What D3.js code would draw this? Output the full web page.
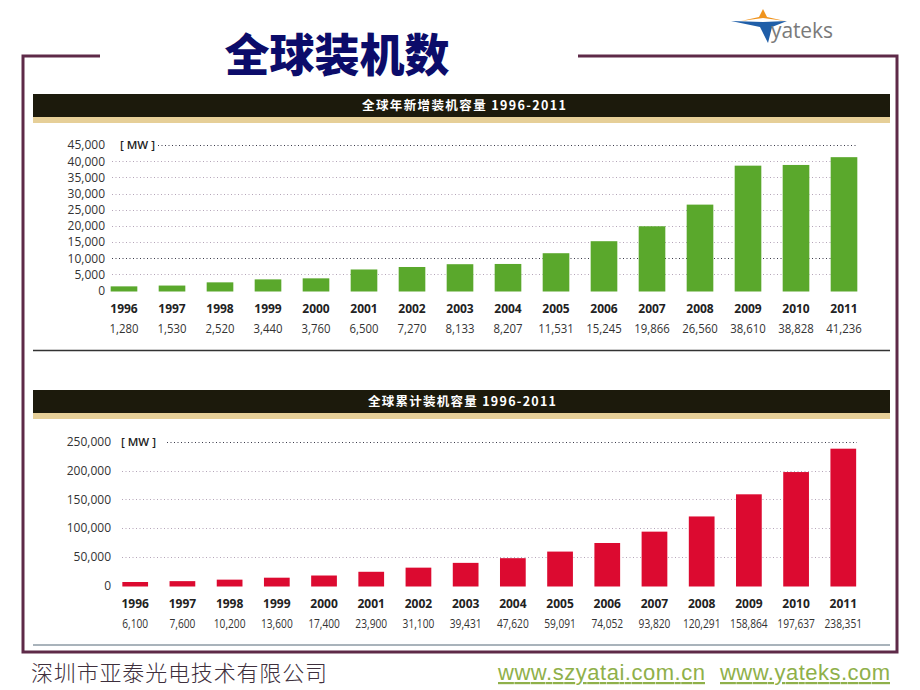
<!DOCTYPE html>
<html><head><meta charset="utf-8">
<script src="https://cdn.jsdelivr.net/npm/d3@7"></script>
<style>
html,body{margin:0;padding:0;background:#fff;}
svg{display:block;}
</style></head>
<body>
<script>
const years = ["1996","1997","1998","1999","2000","2001","2002","2003","2004","2005","2006","2007","2008","2009","2010","2011"];
const annualMW = [1280,1530,2520,3440,3760,6500,7270,8133,8207,11531,15245,19866,26560,38610,38828,41236];
const cumulativeMW = [6100,7600,10200,13600,17400,23900,31100,39431,47620,59091,74052,93820,120291,158864,197637,238351];
const ticksAnnual = [0,5000,10000,15000,20000,25000,30000,35000,40000,45000];
const ticksCumulative = [0,50000,100000,150000,200000,250000];
const pageTitle = "全球装机数";
const titleAnnual = "全球年新增装机容量 1996-2011";
const titleCumulative = "全球累计装机容量 1996-2011";
const unitLabel = "[ MW ]";
const companyName = "深圳市亚泰光电技术有限公司";
const urls = ["www.szyatai.com.cn","www.yateks.com"];

const W = 920, H = 690;
const svg = d3.select("body").append("svg").attr("width", W).attr("height", H);
svg.append("rect").attr("width", W).attr("height", H).attr("fill", "#fff");

const fmt = d3.format(",");
const FONT = "'Open Sans', 'Noto Sans', sans-serif";
const CJK = "'Noto Sans CJK SC', sans-serif";

// Frame
const frame = "#5e2a48";
svg.append("path")
  .attr("d", "M100,56 L23,56 L23,652 L897,652 L897,56 L578,56")
  .attr("fill", "none").attr("stroke", frame).attr("stroke-width", 3);

// Title
svg.append("text").attr("x", 337).attr("y", 72).attr("text-anchor", "middle")
  .attr("font-family", CJK).attr("font-weight", 900).attr("font-size", 45)
  .attr("fill", "#0c0c6a").text(pageTitle);

// Logo
const logo = svg.append("g");
logo.append("path").attr("d", "M763,9 L767,17 L785,21 L763,18 L741,21 L759,17 Z").attr("fill", "#f0941e");
logo.append("path").attr("d", "M731,21 L763,22 L787,21 L772,27 L768,43 L760,27 Z").attr("fill", "#1f5ea8");
logo.append("text").attr("x", 771).attr("y", 38).attr("font-family", FONT)
  .attr("font-size", 21).attr("fill", "#7a7a7a").attr("textLength", 62).text("yateks");

function headerBar(y, title, cx, len) {
  svg.append("rect").attr("x", 33).attr("y", y).attr("width", 857).attr("height", 23).attr("fill", "#1c1a0c");
  svg.append("rect").attr("x", 33).attr("y", y + 23).attr("width", 857).attr("height", 6).attr("fill", "#e6cf98");
  svg.append("text").attr("x", cx).attr("y", y + 16).attr("text-anchor", "middle")
    .attr("font-family", CJK).attr("font-weight", 700).attr("font-size", 12.5)
    .attr("fill", "#fff").attr("textLength", len).attr("lengthAdjust", "spacing").text(title);
}
headerBar(94, titleAnnual, 464, 204);
headerBar(390, titleCumulative, 462, 188);

function barChart(opt) {
  const g = svg.append("g");
  const x = d3.scaleBand().domain(years).range(opt.xr).paddingInner(opt.pad).paddingOuter(opt.pad / 2);
  const y = d3.scaleLinear().domain([0, opt.ticks[opt.ticks.length - 1]]).range(opt.yr);

  // gridlines
  opt.ticks.filter(t => t > 0).forEach((t, i, arr) => {
    const top = i === arr.length - 1;
    g.append("line")
      .attr("x1", top ? opt.gridTopStart : opt.gridStart).attr("x2", opt.gridEnd)
      .attr("y1", Math.round(y(t)) + 0.5).attr("y2", Math.round(y(t)) + 0.5)
      .attr("stroke", opt.darkTicks.includes(t) ? "#3a3a4a" : "#b4a4b8")
      .attr("stroke-width", 1).attr("stroke-dasharray", "1,2.5");
  });

  // y axis labels
  const ax = g.append("g").attr("transform", `translate(${opt.labelX},0)`)
    .call(d3.axisLeft(y).tickValues(opt.ticks).tickFormat(fmt).tickSize(0).tickPadding(0));
  ax.select(".domain").remove();
  ax.selectAll("text").attr("font-family", FONT).attr("font-size", 12).attr("fill", "#333");

  // unit label
  g.append("text").attr("x", opt.unitX).attr("y", y(opt.ticks[opt.ticks.length - 1]))
    .attr("dy", "0.35em").attr("font-family", FONT).attr("font-weight", 600)
    .attr("font-size", 11.5).attr("fill", "#222").text(unitLabel);

  // bars
  g.selectAll("rect.bar").data(opt.values).join("rect").attr("class", "bar")
    .attr("x", (d, i) => x(years[i])).attr("width", x.bandwidth())
    .attr("y", d => y(d)).attr("height", d => y(0) + opt.barExtra - y(d))
    .attr("fill", opt.color);

  // year labels
  g.selectAll("text.yr").data(years).join("text").attr("class", "yr")
    .attr("x", d => x(d) + x.bandwidth() / 2).attr("y", opt.yearY).attr("dy", "0.35em")
    .attr("text-anchor", "middle").attr("font-family", FONT).attr("font-weight", 700)
    .attr("font-size", 12).attr("fill", "#222").text(d => d);

  // value labels (horizontally condensed as in the reference)
  g.selectAll("text.val").data(opt.values).join("text").attr("class", "val")
    .attr("transform", (d, i) => `translate(${x(years[i]) + x.bandwidth() / 2},${opt.valY}) scale(${opt.valScale},1)`)
    .attr("dy", "0.35em")
    .attr("text-anchor", "middle").attr("font-family", FONT)
    .attr("font-size", 12).attr("fill", "#333").text(d => fmt(d));
}

barChart({
  values: annualMW, ticks: ticksAnnual, xr: [100, 868], pad: 0.445, yr: [290.5, 145],
  labelX: 105, gridStart: 112, gridTopStart: 158, gridEnd: 856, unitX: 120,
  darkTicks: [10000, 45000], color: "#5aa82c", barExtra: 1, yearY: 309, valY: 329, valScale: 0.95
});

barChart({
  values: cumulativeMW, ticks: ticksCumulative, xr: [111.6, 866.9], pad: 0.455, yr: [585.5, 442],
  labelX: 111, gridStart: 122, gridTopStart: 167, gridEnd: 857, unitX: 121,
  darkTicks: [250000], color: "#dc0a30", barExtra: 1, yearY: 604, valY: 624, valScale: 0.85
});

// separators
svg.append("line").attr("x1", 33).attr("x2", 890).attr("y1", 350.5).attr("y2", 350.5)
  .attr("stroke", "#333").attr("stroke-width", 1.3);
svg.append("line").attr("x1", 33).attr("x2", 890).attr("y1", 645).attr("y2", 645)
  .attr("stroke", "#8c9aa4").attr("stroke-width", 1.5);

// footer
svg.append("text").attr("x", 31).attr("y", 681).attr("font-family", CJK).attr("font-weight", 300)
  .attr("font-size", 22).attr("fill", "#3e2f3c").attr("textLength", 296).text(companyName);
svg.append("text").attr("x", 498).attr("y", 680).attr("font-family", "'Liberation Sans', Arial, sans-serif")
  .attr("font-size", 22).attr("fill", "#8fb04a").attr("textLength", 207).attr("text-decoration", "underline").text(urls[0]);
svg.append("text").attr("x", 720).attr("y", 680).attr("font-family", "'Liberation Sans', Arial, sans-serif")
  .attr("font-size", 22).attr("fill", "#8fb04a").attr("textLength", 170).attr("text-decoration", "underline").text(urls[1]);
</script>
</body></html>
